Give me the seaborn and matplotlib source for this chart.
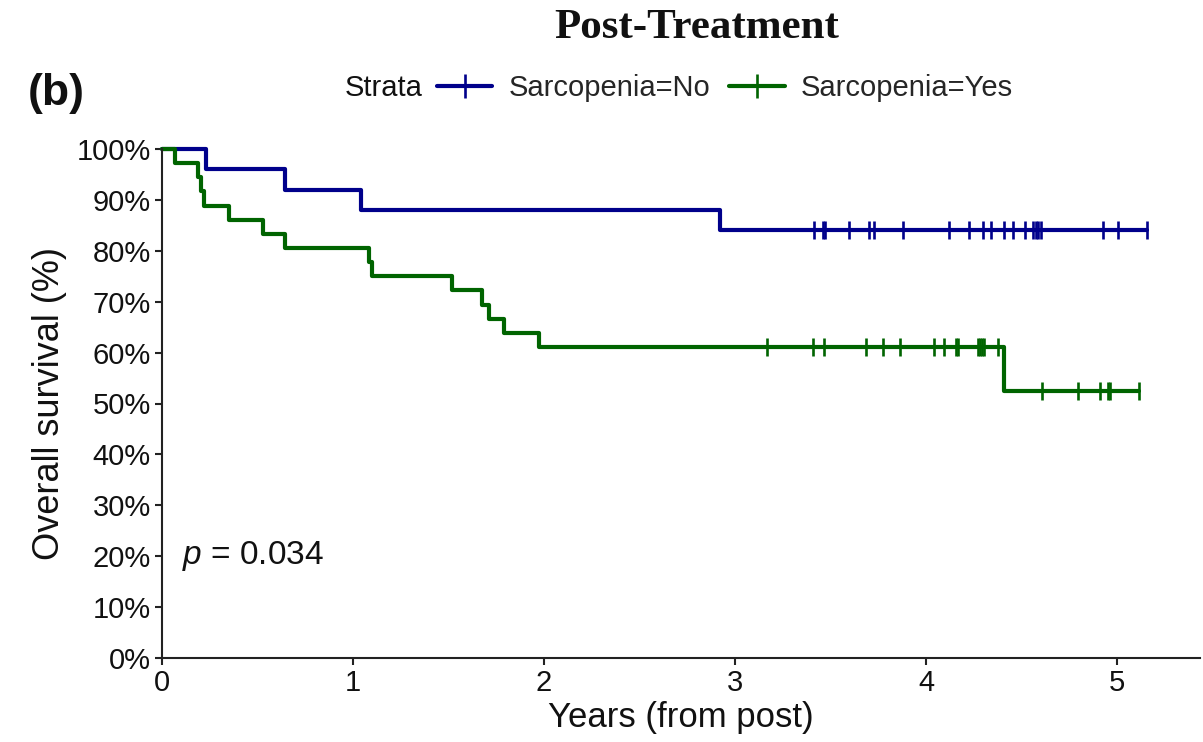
import numpy as np
import pandas as pd
import matplotlib
matplotlib.use("Agg")
import matplotlib.pyplot as plt
from matplotlib.lines import Line2D
import seaborn as sns

# ---- data (years) ----
no_event_times = [0.23, 0.645, 1.04, 2.92]
no_censor_times = [3.415, 3.46, 3.47, 3.595, 3.703, 3.727, 3.878, 4.122, 4.227,
                   4.297, 4.34, 4.41, 4.454, 4.52, 4.558, 4.576, 4.588, 4.602,
                   4.925, 5.003, 5.157]
yes_event_times = [0.068, 0.187, 0.204, 0.22, 0.35, 0.527, 0.644, 1.085, 1.10,
                   1.52, 1.675, 1.714, 1.789, 1.975, 4.41]
yes_censor_times = [3.166, 3.407, 3.464, 3.686, 3.773, 3.866, 4.040, 4.093,
                    4.155, 4.17, 4.27, 4.285, 4.295, 4.305, 4.375,
                    4.606, 4.798, 4.911, 4.955, 4.965, 5.117]
strata_labels = ["Sarcopenia=No", "Sarcopenia=Yes"]
x_ticks = [0, 1, 2, 3, 4, 5]
y_ticks = [0, 10, 20, 30, 40, 50, 60, 70, 80, 90, 100]
p_text = "0.034"


def kaplan_meier(events, censors):
    times = np.array(list(events) + list(censors), dtype=float)
    flags = np.array([1] * len(events) + [0] * len(censors))
    order = np.argsort(times, kind="stable")
    times, flags = times[order], flags[order]
    n = len(times)
    s = 1.0
    xs, ys = [0.0], [1.0]
    cx, cy = [], []
    for t in np.unique(times):
        m = times == t
        d = flags[m].sum()
        c = (1 - flags[m]).sum()
        if d > 0:
            s *= 1 - d / n
            xs.append(t)
            ys.append(s)
        if c > 0:
            cx += [t] * int(c)
            cy += [s] * int(c)
        n -= d + c
    xs.append(times.max())
    ys.append(s)
    return xs, ys, cx, cy


sns.set_style("ticks")
plt.rcParams["font.family"] = ["Liberation Sans", "DejaVu Sans"]
plt.rcParams["mathtext.fontset"] = "custom"
plt.rcParams["mathtext.it"] = "Liberation Sans:italic"
plt.rcParams["mathtext.rm"] = "Liberation Sans"

W, H = 1203, 742
fig = plt.figure(figsize=(W / 100, H / 100), dpi=100)
ax = fig.add_axes([162 / W, (H - 658) / H, (1200 - 162) / W, (658 - 149) / H])

colors = ["#00008B", "#006400"]
curves = [(no_event_times, no_censor_times), (yes_event_times, yes_censor_times)]
for (ev, ce), col, lab in zip(curves, colors, strata_labels):
    xs, ys, cx, cy = kaplan_meier(ev, ce)
    df = pd.DataFrame({"time": xs, "surv": np.array(ys) * 100})
    sns.lineplot(data=df, x="time", y="surv", drawstyle="steps-post", color=col,
                 linewidth=3.0, ax=ax, clip_on=False, sort=False, estimator=None)
    cdf = pd.DataFrame({"time": cx, "surv": np.array(cy) * 100})
    sns.scatterplot(data=cdf, x="time", y="surv", marker="|", s=170, color=col,
                    linewidth=1.9, ax=ax, clip_on=False, zorder=3)

ax.set_xlim(0, (1200 - 162) / 191)
ax.set_ylim(0, 100)
ax.set_xticks(x_ticks)
ax.set_xticklabels([str(t) for t in x_ticks])
ax.set_yticks(y_ticks)
ax.set_yticklabels([f"{t}%" for t in y_ticks])
sns.despine(ax=ax)
for sp in ["left", "bottom"]:
    ax.spines[sp].set_linewidth(1.5)
    ax.spines[sp].set_color("#222222")
ax.tick_params(axis="both", direction="out", length=5, width=1.5,
               labelsize=21, colors="#222222", labelcolor="#111111", pad=3)

ax.set_xlabel("Years (from post)", fontsize=25, color="#111111")
ax.set_ylabel("Overall survival (%)", fontsize=26, color="#111111")
ax.xaxis.set_label_coords(0.5, (658 - 718) / 509)
ax.xaxis.label.set_va("center")
ax.yaxis.set_label_coords((50 - 162) / 1038, 0.5)
ax.yaxis.label.set_va("center")
ax.yaxis.label.set_ha("center")

ax.text(0.105, 20.0, r"$p$ = " + p_text, fontsize=24, ha="left", va="center",
        color="#111111")

fig.text(697 / W, 1 - 28 / H, "Post-Treatment", ha="center", va="center",
         fontfamily="Liberation Serif", fontweight="bold", fontsize=31,
         color="#111111")
fig.text(28 / W, 1 - 93 / H, "(b)", ha="left", va="center", fontweight="bold",
         fontsize=32, color="#111111")
fig.text(345 / W, 1 - 88 / H, "Strata", ha="left", va="center", fontsize=21,
         color="#111111")

handles = [Line2D([], [], color=c, lw=3.0, marker="|", markersize=17, mew=1.9)
           for c in colors]
fig.legend(handles, strata_labels, loc="center left",
           bbox_to_anchor=(437 / W, 1 - 88 / H), ncol=2, frameon=False,
           fontsize=21, handlelength=1.9, handletextpad=0.55,
           columnspacing=0.65, borderpad=0, borderaxespad=0)

fig.savefig("out.png", dpi=100)
